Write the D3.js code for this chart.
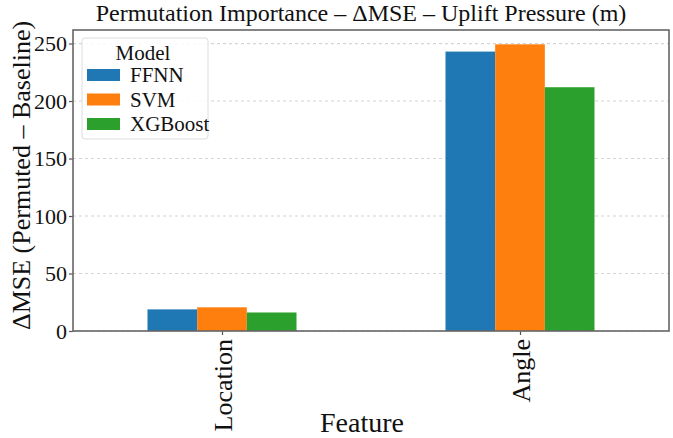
<!DOCTYPE html>
<html>
<head>
<meta charset="utf-8">
<script src="https://cdn.jsdelivr.net/npm/d3@7"></script>
<style>
  body { margin: 0; background: #fff; }
  text { font-family: "Liberation Serif", "Times New Roman", serif; fill: #111; }
</style>
</head>
<body>
<svg id="chart" width="673" height="438"></svg>
<script>
// data
const features = ['Location', 'Angle'];
const models = ['FFNN', 'SVM', 'XGBoost'];
const ffnn = [18.8, 243];
const svm = [20.6, 249.3];
const xgboost = [16.1, 212];
const yTicks = [0, 50, 100, 150, 200, 250];
const colors = ['#1f77b4', '#ff7f0e', '#2ca02c'];

const series = [ffnn, svm, xgboost];

const svg = d3.select('#chart'),
  margin = { top: 30, right: 4, bottom: 107, left: 73 },
  width = 673 - margin.left - margin.right,
  height = 438 - margin.top - margin.bottom;

const g = svg.append('g')
  .attr('transform', `translate(${margin.left},${margin.top})`);

// pandas style: categories at 0,1 with xlim -0.5..1.5
const x = d3.scaleLinear().domain([-0.5, 1.5]).range([0, width]);
const barW = 0.5 / models.length;

const yMax = d3.max(series.flat()) * 1.05;
const y = d3.scaleLinear().domain([0, yMax]).range([height, 0]);

// dashed grid
g.append('g')
  .selectAll('line')
  .data(yTicks)
  .join('line')
  .attr('x1', 0)
  .attr('x2', width)
  .attr('y1', d => y(d))
  .attr('y2', d => y(d))
  .attr('stroke', '#d4d4d4')
  .attr('stroke-width', 1.2)
  .attr('stroke-dasharray', '3,3');

// bars
series.forEach((vals, si) => {
  g.append('g')
    .selectAll('rect')
    .data(vals)
    .join('rect')
    .attr('x', (d, i) => x(i - 0.25 + si * barW))
    .attr('width', x(barW) - x(0))
    .attr('y', d => y(d))
    .attr('height', d => height - y(d))
    .attr('fill', colors[si]);
});

// axes
const yAxis = g.append('g')
  .call(d3.axisLeft(y).tickValues(yTicks).tickSize(4).tickPadding(2));
const xAxis = g.append('g')
  .attr('transform', `translate(0,${height})`)
  .call(d3.axisBottom(x).tickValues([0, 1]).tickFormat(i => features[i]).tickSize(4));

[yAxis, xAxis].forEach(a => {
  a.select('.domain').remove();
  a.selectAll('.tick line').attr('stroke', '#555').attr('stroke-width', 1.2);
  a.selectAll('text').attr('fill', '#111');
});
yAxis.selectAll('text').style('font-size', '22px');

xAxis.selectAll('text')
  .style('font-size', '26px')
  .attr('transform', 'rotate(-90)')
  .attr('text-anchor', 'end')
  .attr('x', -8)
  .attr('y', 0)
  .attr('dy', '0.35em');

// frame
g.append('rect')
  .attr('width', width)
  .attr('height', height)
  .attr('fill', 'none')
  .attr('stroke', '#666')
  .attr('stroke-width', 1.6);

// title & labels
svg.append('text')
  .attr('x', margin.left + width / 2 - 10)
  .attr('y', 21)
  .attr('text-anchor', 'middle')
  .style('font-size', '24px')
  .text('Permutation Importance – ΔMSE – Uplift Pressure (m)');

svg.append('text')
  .attr('transform', `translate(30,${margin.top + height / 2 - 5}) rotate(-90)`)
  .attr('text-anchor', 'middle')
  .style('font-size', '26px')
  .text('ΔMSE (Permuted – Baseline)');

svg.append('text')
  .attr('x', margin.left + width / 2 - 9)
  .attr('y', 432)
  .attr('text-anchor', 'middle')
  .style('font-size', '28px')
  .text('Feature');

// legend
const lg = g.append('g').attr('transform', 'translate(9,8)');
lg.append('rect')
  .attr('width', 126)
  .attr('height', 101)
  .attr('rx', 3)
  .attr('fill', 'rgba(255,255,255,0.85)')
  .attr('stroke', '#ddd');
lg.append('text')
  .attr('x', 61)
  .attr('y', 22)
  .attr('text-anchor', 'middle')
  .style('font-size', '21px')
  .text('Model');
models.forEach((m, i) => {
  const row = lg.append('g').attr('transform', `translate(5,${31 + i * 24.5})`);
  row.append('rect').attr('width', 33).attr('height', 12).attr('fill', colors[i]);
  row.append('text')
    .attr('x', 43)
    .attr('y', 13)
    .style('font-size', '21px')
    .text(m);
});
</script>
</body>
</html>
